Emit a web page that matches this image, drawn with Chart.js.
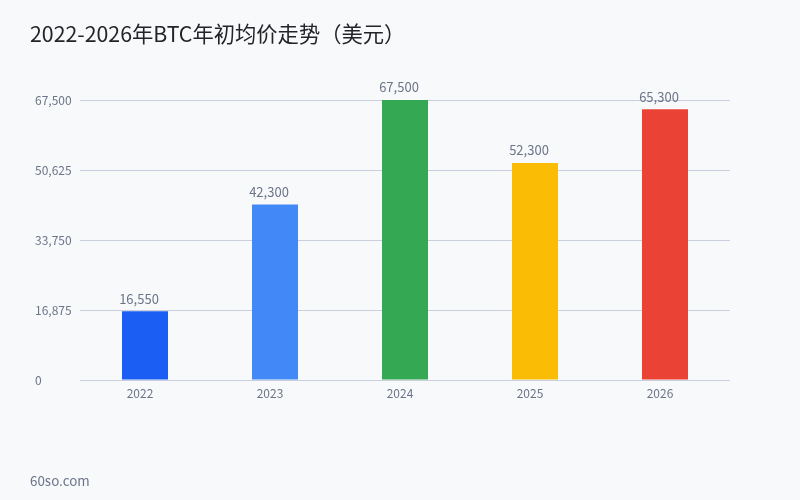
<!DOCTYPE html>
<html>
<head>
<meta charset="utf-8">
<script src="https://cdn.jsdelivr.net/npm/chart.js@4/dist/chart.umd.min.js"></script>
<style>
  html, body { margin: 0; padding: 0; background: #f8f9fb; }
  #wrap { position: relative; width: 800px; height: 500px; font-family: 'Noto Sans CJK SC', 'Noto Sans', sans-serif; }
  #title { position: absolute; left: 30px; top: 17px; font-size: 21.3px; color: #222428; white-space: nowrap; }
  #footer { position: absolute; left: 30px; top: 470px; font-size: 13.4px; color: #6b7488; }
  canvas { position: absolute; left: 0; top: 0; }
</style>
</head>
<body>
<div id="wrap">
  <canvas id="chart" width="800" height="500"></canvas>
  <div id="title">2022-2026年BTC年初均价走势（美元）</div>
  <div id="footer">60so.com</div>
</div>
<script>
// data
const years = ['2022', '2023', '2024', '2025', '2026'];
const prices = [16550, 42300, 67500, 52300, 65300];
const barColors = ['#1a5ef3', '#4288f6', '#34a853', '#fbbc05', '#ea4335'];
const yTicks = [0, 16875, 33750, 50625, 67500];

const fmt = v => v.toLocaleString('en-US');
const FONT = "'Noto Sans CJK SC', 'Noto Sans', sans-serif";

// value labels above each bar
const valueLabels = {
  id: 'valueLabels',
  afterDatasetsDraw(chart) {
    const { ctx } = chart;
    const meta = chart.getDatasetMeta(0);
    ctx.save();
    ctx.font = `13px ${FONT}`;
    ctx.fillStyle = '#6b7488';
    ctx.textAlign = 'center';
    ctx.textBaseline = 'bottom';
    meta.data.forEach((bar, i) => {
      ctx.fillText(fmt(prices[i]), bar.x - 6, bar.y - 6);
    });
    ctx.restore();
  }
};

new Chart(document.getElementById('chart'), {
  type: 'bar',
  data: {
    labels: years,
    datasets: [{
      data: prices,
      backgroundColor: barColors,
      barPercentage: 0.354,
      categoryPercentage: 1
    }]
  },
  options: {
    responsive: false,
    animation: false,
    layout: { padding: { top: 100, right: 70, left: 35, bottom: 0 } },
    plugins: { legend: { display: false }, tooltip: { enabled: false } },
    scales: {
      x: {
        grid: { display: false, drawTicks: false },
        border: { display: false },
        ticks: { color: '#6b7488', font: { size: 12, family: FONT }, padding: 6, labelOffset: -5 },
        afterFit(scale) { scale.height = 120; }
      },
      y: {
        min: 0,
        max: 67500,
        afterBuildTicks(scale) { scale.ticks = yTicks.map(v => ({ value: v })); },
        grid: { color: '#c9cfdf', drawTicks: false },
        border: { display: false },
        ticks: { color: '#6b7488', font: { size: 12, family: FONT }, padding: 7, crossAlign: 'far', callback: v => fmt(v) },
        afterFit(scale) { scale.width = 45; }
      }
    }
  },
  plugins: [valueLabels]
});
</script>
</body>
</html>
